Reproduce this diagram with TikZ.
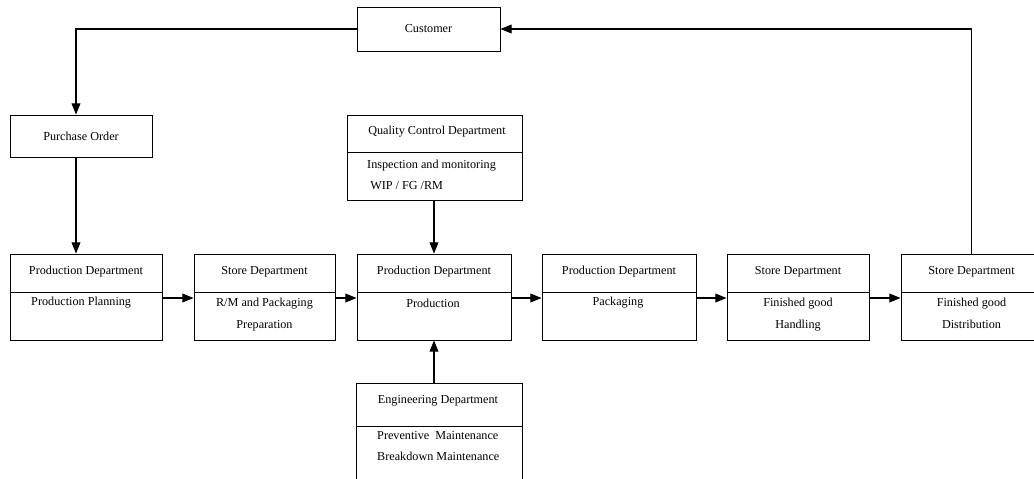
\documentclass[tikz,border=0pt]{standalone}
\usepackage{fontspec}
\setmainfont{Liberation Serif}
\usetikzlibrary{arrows.meta}

\begin{document}
\begin{tikzpicture}[x=0.03cm, y=-0.03cm,
  every node/.style={font=\fontsize{10.4}{12.5}\selectfont, inner sep=0pt},
  box/.style 2 args={draw, line width=0.8pt,
    minimum width=#1*0.03cm, minimum height=#2*0.03cm},
  flow/.style={-{Triangle[length=9.5pt,width=7.5pt]}, line width=0.9pt}]

\useasboundingbox (0,0) rectangle (1034,479);
\clip (0,0) rectangle (1034,479);

% CUSTOMER
\node[box={143}{44}] (cust) at (428.5,29) {Customer};

% PURCHASE ORDER
\node[box={142}{42}] (po) at (81,136) {Purchase Order};

% QUALITY CONTROL
\node[box={175}{85}] (qc) at (434.5,157.5) {};
\draw[line width=0.8pt] (qc.west |- 0,152) -- (qc.east |- 0,152);
\node (qcT) at (437,132) {Quality Control Department};
\node[anchor=west] (qcB) at (367,176.5)
{
\begin{tabular}{@{}l@{}}
Inspection and monitoring\\[5.5pt]
\ WIP / FG /RM
\end{tabular}
};

% BLOCK 1
\node[box={152}{86}] (plan) at (86,297) {};
\draw[line width=0.8pt] (plan.west |- 0,292) -- (plan.east |- 0,292);
\node (planT) at (86,272) {Production Department};
\node[anchor=west] (planB) at (31,303) {Production Planning};

% BLOCK 2
\node[box={141}{86}] (prep) at (264.5,297) {};
\draw[line width=0.8pt] (prep.west |- 0,292) -- (prep.east |- 0,292);
\node (prepT) at (264.5,272) {Store Department};
\node (prepB) at (264.5,314.5)
{
\begin{tabular}{@{}c@{}}
R/M and Packaging\\[7pt]
Preparation
\end{tabular}
};

% BLOCK 3
\node[box={154}{86}] (prod) at (434,297) {};
\draw[line width=0.8pt] (prod.west |- 0,292) -- (prod.east |- 0,292);
\node (prodT) at (434,272) {Production Department};
\node (prodB) at (433,303) {Production};

% BLOCK 4
\node[box={154}{86}] (pack) at (619,297) {};
\draw[line width=0.8pt] (pack.west |- 0,292) -- (pack.east |- 0,292);
\node (packT) at (619,272) {Production Department};
\node (packB) at (618,303) {Packaging};

% BLOCK 5
\node[box={142}{86}] (hand) at (798,297) {};
\draw[line width=0.8pt] (hand.west |- 0,292) -- (hand.east |- 0,292);
\node (handT) at (798,272) {Store Department};
\node (handB) at (798,314.5)
{
\begin{tabular}{@{}c@{}}
Finished good\\[7pt]
Handling
\end{tabular}
};

% BLOCK 6
\node[box={141}{86}] (dist) at (971.5,297) {};
\draw[line width=0.8pt] (dist.west |- 0,292) -- (dist.east |- 0,292);
\node (distT) at (971.5,272) {Store Department};
\node (distB) at (971.5,314.5)
{
\begin{tabular}{@{}c@{}}
Finished good\\[7pt]
Distribution
\end{tabular}
};

% ENGINEERING
\node[box={166}{107}] (eng) at (439,436.5) {};
\draw[line width=0.8pt] (eng.west |- 0,426) -- (eng.east |- 0,426);
\node (engT) at (438,401) {Engineering Department};
\node[anchor=west] (engB) at (377,447.5)
{
\begin{tabular}{@{}l@{}}
Preventive\ \ Maintenance\\[5.5pt]
Breakdown Maintenance
\end{tabular}
};

% ARROWS
\coordinate (drop) at (76,0);
\coordinate (flowy) at (0,298);

\draw[flow]
(cust.west)
-|
(drop |- po.north);

\draw[flow]
(drop |- po.south)
--
(drop |- plan.north);

\draw[flow] (plan.east |- flowy) -- (prep.west |- flowy);
\draw[flow] (prep.east |- flowy) -- (prod.west |- flowy);
\draw[flow] (prod.east |- flowy) -- (pack.west |- flowy);
\draw[flow] (pack.east |- flowy) -- (hand.west |- flowy);
\draw[flow] (hand.east |- flowy) -- (dist.west |- flowy);

\draw[flow]
(prod.north |- qc.south)
--
(prod.north);

\draw[flow]
(prod.south |- eng.north)
--
(prod.south);

% FEEDBACK
\draw[flow]
(dist.north)
|-
(cust.east);

\end{tikzpicture}
\end{document}
